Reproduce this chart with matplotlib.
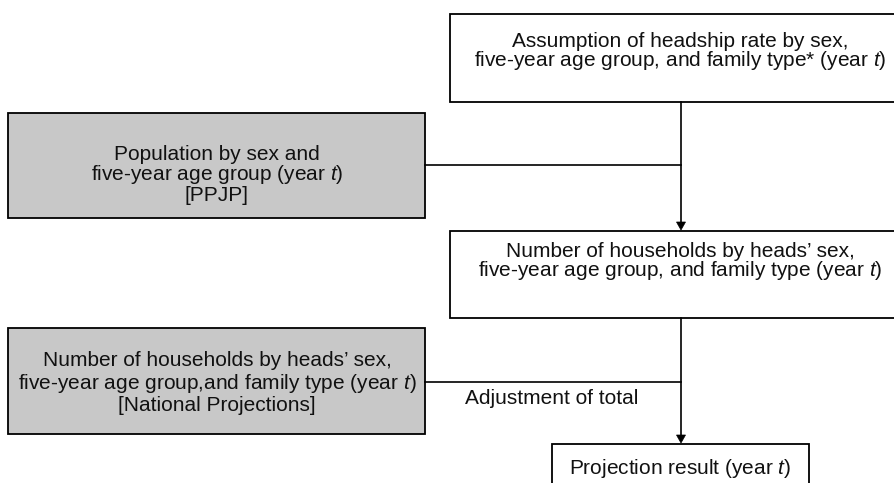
import matplotlib
matplotlib.use('Agg')
import matplotlib.pyplot as plt
from matplotlib.patches import Rectangle, Polygon

plt.rcParams['font.family'] = ['Liberation Sans', 'DejaVu Sans']
plt.rcParams['mathtext.fontset'] = 'custom'
plt.rcParams['mathtext.rm'] = 'Liberation Sans'
plt.rcParams['mathtext.it'] = 'Liberation Sans:italic'

T = r'$\mathit{t}$'

# boxes: (left, top, right, bottom) in pixel coords, label, fill, text centre y, line spacing
box_names = ['headship', 'population', 'households', 'national', 'result']
box_extent = [(450, 14, 915, 102),
              (8, 113, 425, 218),
              (450, 231, 915, 318),
              (8, 328, 425, 434),
              (552, 444, 809, 510)]
box_labels = ['Assumption of headship rate by sex,\nfive-year age group, and family type* (year ' + T + ')',
              'Population by sex and\nfive-year age group (year ' + T + ')\n[PPJP]',
              'Number of households by heads\u2019 sex,\nfive-year age group, and family type (year ' + T + ')',
              'Number of households by heads\u2019 sex,\nfive-year age group,and family type (year ' + T + ')\n[National Projections]',
              'Projection result (year ' + T + ')']
box_fill = ['white', '#c8c8c8', 'white', '#c8c8c8', 'white']
text_y = [52, 175, 262, 383, 469]
text_x = [680, 217, 680, 217, 680]
spacing = [0.93, 0.96, 0.93, 1.1, 1.0]

# connectors
main_x = 681
arrows = [(102, 231), (318, 444)]          # vertical arrows (start, end y)
joins = [(425, 165), (425, 382)]          # horizontal joins (from x, at y)
note = 'Adjustment of total'

fig = plt.figure(figsize=(8.94, 4.83), dpi=100)
ax = fig.add_axes([0, 0, 1, 1])
ax.set_xlim(0, 894)
ax.set_ylim(483, 0)
ax.axis('off')

for (l, t, r, b), lab, fc, ty, tx, ls in zip(box_extent, box_labels, box_fill, text_y, text_x, spacing):
    ax.add_patch(Rectangle((l, t), r - l, b - t, facecolor=fc, edgecolor='black', lw=1.3))
    ax.text(tx, ty, lab, ha='center', va='center', fontsize=15, linespacing=ls, color='#111111')

for y0, y1 in arrows:
    ax.plot([main_x, main_x], [y0, y1 - 7], color='black', lw=1.2)
    ax.add_patch(Polygon([(main_x - 4.5, y1 - 9), (main_x + 4.5, y1 - 9), (main_x, y1 - 1)],
                         closed=True, facecolor='black', edgecolor='black', lw=0.5))

for x0, y in joins:
    ax.plot([x0, main_x], [y, y], color='black', lw=1.2)

ax.text(552, 398, note, ha='center', va='center', fontsize=15, color='#111111')

fig.savefig('out.png', dpi=100)
